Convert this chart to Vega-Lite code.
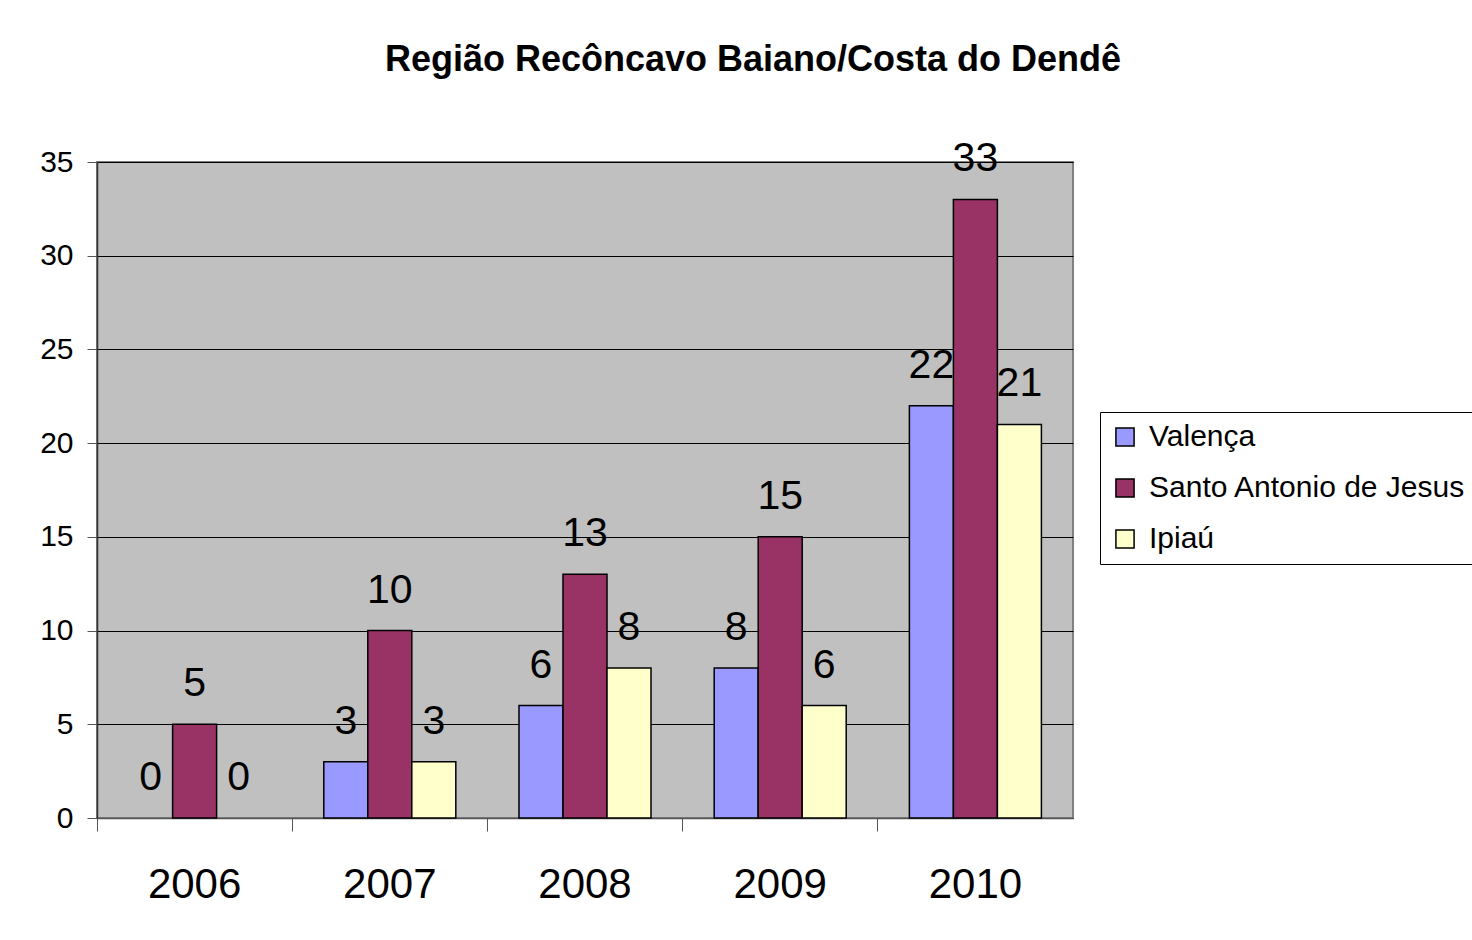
{
  "$schema": "https://vega.github.io/schema/vega-lite/v6.json",
  "autosize": {"type": "none"},
  "width": 976,
  "height": 656,
  "padding": {"left": 97, "top": 162, "right": 399, "bottom": 122},
  "background": "white",
  "title": {
    "text": "Região Recôncavo Baiano/Costa do Dendê",
    "font": "Liberation Sans",
    "fontSize": 36,
    "fontWeight": "bold",
    "color": "black",
    "anchor": "middle",
    "dx": 168,
    "offset": 59
  },
  "config": {
    "font": "Liberation Sans",
    "view": {"fill": "#C0C0C0", "stroke": "#808080", "strokeWidth": 2}
  },
  "data": {
    "values": [
      {"year": "2006", "city": "Valença", "value": 0},
      {"year": "2006", "city": "Santo Antonio de Jesus", "value": 5},
      {"year": "2006", "city": "Ipiaú", "value": 0},
      {"year": "2007", "city": "Valença", "value": 3},
      {"year": "2007", "city": "Santo Antonio de Jesus", "value": 10},
      {"year": "2007", "city": "Ipiaú", "value": 3},
      {"year": "2008", "city": "Valença", "value": 6},
      {"year": "2008", "city": "Santo Antonio de Jesus", "value": 13},
      {"year": "2008", "city": "Ipiaú", "value": 8},
      {"year": "2009", "city": "Valença", "value": 8},
      {"year": "2009", "city": "Santo Antonio de Jesus", "value": 15},
      {"year": "2009", "city": "Ipiaú", "value": 6},
      {"year": "2010", "city": "Valença", "value": 22},
      {"year": "2010", "city": "Santo Antonio de Jesus", "value": 33},
      {"year": "2010", "city": "Ipiaú", "value": 21}
    ]
  },
  "encoding": {
    "x": {
      "field": "year",
      "type": "nominal",
      "scale": {"paddingInner": 0, "paddingOuter": 0},
      "axis": {
        "title": null,
        "labelAngle": 0,
        "labelFontSize": 42,
        "labelColor": "black",
        "labelPadding": 33,
        "bandPosition": 0,
        "tickSize": 13,
        "tickColor": "#555555",
        "domainColor": "#555555",
        "domainWidth": 1.5,
        "grid": false
      }
    },
    "xOffset": {
      "field": "city",
      "sort": ["Valença", "Santo Antonio de Jesus", "Ipiaú"],
      "scale": {"paddingInner": 0, "paddingOuter": 0.718}
    },
    "y": {
      "field": "value",
      "type": "quantitative",
      "scale": {"domain": [0, 35], "nice": false},
      "axis": {
        "title": null,
        "values": [0, 5, 10, 15, 20, 25, 30, 35],
        "labelFontSize": 30,
        "labelColor": "black",
        "labelPadding": 14,
        "tickSize": 10,
        "tickColor": "#555555",
        "domainColor": "#333333",
        "domainWidth": 1.5,
        "grid": true,
        "gridColor": "black",
        "gridWidth": 1
      }
    }
  },
  "layer": [
    {
      "transform": [{"filter": "datum.value > 0"}],
      "mark": {"type": "bar", "stroke": "black", "strokeWidth": 1.5},
      "encoding": {
        "color": {
          "field": "city",
          "type": "nominal",
          "sort": ["Valença", "Santo Antonio de Jesus", "Ipiaú"],
          "scale": {
            "domain": ["Valença", "Santo Antonio de Jesus", "Ipiaú"],
            "range": ["#9999FF", "#993366", "#FFFFCC"]
          },
          "legend": {
            "title": null,
            "orient": "none",
            "legendX": 1003,
            "legendY": 250,
            "symbolType": "square",
            "symbolSize": 330,
            "symbolStrokeColor": "black",
            "symbolStrokeWidth": 1.5,
            "labelFontSize": 30,
            "labelColor": "black",
            "labelLimit": 600,
            "rowPadding": 21,
            "padding": 10,
            "strokeColor": "black",
            "fillColor": "white",
            "labelOffset": 9
          }
        }
      }
    },
    {
      "mark": {
        "type": "text",
        "fontSize": 41,
        "color": "black",
        "baseline": "alphabetic",
        "dy": -28
      },
      "encoding": {
        "text": {"field": "value", "type": "quantitative"}
      }
    }
  ]
}
